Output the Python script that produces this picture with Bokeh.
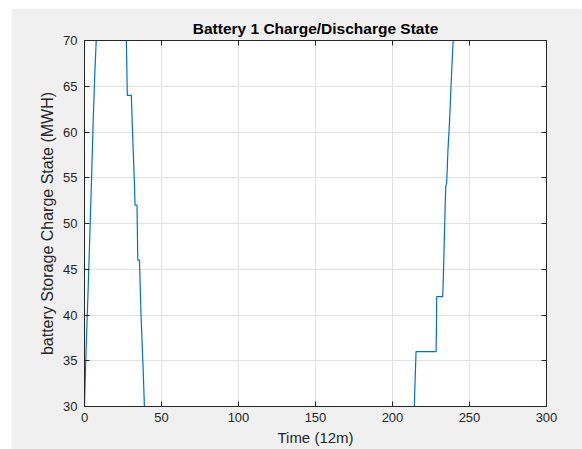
from bokeh.plotting import figure
from bokeh.models import LinearAxis, Range1d, FixedTicker
from bokeh.embed import file_html
from bokeh.resources import INLINE

# Time index (12-minute steps) and battery state of charge (MWh)
time_12m = [0, 0.3, 1.2, 2.4, 3.5, 4.6, 5.6, 6.6, 7.6,
            27.2, 27.6, 27.8, 30.4, 31.2, 32.5, 32.8, 34.1, 34.6, 35.7, 36.7, 38.1, 38.9,
            214.2, 214.5, 215.3, 228.3, 228.5, 228.7, 232.6, 233.0, 233.6, 234.2, 234.6, 235.2,
            236.0, 237.0, 238.0, 238.8, 239.4, 300]
charge_mwh = [30, 32, 37, 43, 49, 55, 61, 66, 70,
              70, 66, 64, 64, 60, 54, 52, 52, 46, 46, 40, 34, 30,
              30, 32, 36, 36, 38, 42, 42, 44, 48, 52, 54, 54.5,
              58, 61, 65, 68, 70, 70]

x_ticks = [0, 50, 100, 150, 200, 250, 300]
y_ticks = [30, 35, 40, 45, 50, 55, 60, 65, 70]

BG = "#f0f0f0"
AX = "#262626"
FONT = "Liberation Sans"

p = figure(width=571, height=441, output_backend="svg", toolbar_location=None,
           x_range=Range1d(0, 300), y_range=Range1d(30, 70),
           title="Battery 1 Charge/Discharge State",
           min_border_left=73, min_border_right=36, min_border_top=32, min_border_bottom=43)
p.margin = (8, 0, 0, 11)
p.background_fill_color = "white"
p.border_fill_color = BG
p.outline_line_color = AX
p.outline_line_width = 1

p.title.align = "center"
p.title.text_font = FONT
p.title.text_font_size = "15.5px"
p.title.text_font_style = "bold"
p.title.text_color = "#000000"
p.title.standoff = 7

p.line(time_12m, charge_mwh, line_color="#0072BD", line_width=1.2)

def style_axis(ax, ticks, label=True):
    ax.ticker = FixedTicker(ticks=ticks)
    ax.axis_line_color = AX
    ax.major_tick_line_color = AX
    ax.major_tick_in = 5
    ax.major_tick_out = 0
    ax.minor_tick_line_color = None
    ax.major_label_text_font = FONT
    ax.major_label_text_font_size = "13px"
    ax.major_label_text_color = "#262626" if label else None
    ax.axis_label_text_font = FONT
    ax.axis_label_text_font_size = "15px"
    ax.axis_label_text_font_style = "normal"
    ax.axis_label_text_color = "#262626"

xa = p.xaxis[0]
style_axis(xa, x_ticks)
xa.axis_label = "Time (12m)"
xa.major_label_standoff = 6
xa.axis_label_standoff = 4

ya = p.yaxis[0]
style_axis(ya, y_ticks)
ya.axis_label = "battery Storage Charge State (MWH)"
ya.axis_label_text_font_size = "16px"
ya.major_label_standoff = 7
ya.axis_label_standoff = 4

top = LinearAxis()
style_axis(top, x_ticks, label=False)
p.add_layout(top, "above")
right = LinearAxis()
style_axis(right, y_ticks, label=False)
p.add_layout(right, "right")

for g, t in ((p.xgrid[0], x_ticks), (p.ygrid[0], y_ticks)):
    g.ticker = FixedTicker(ticks=t)
    g.grid_line_color = "#e2e2e2"
    g.grid_line_width = 1

open("out.html", "w").write(file_html(p, INLINE))
